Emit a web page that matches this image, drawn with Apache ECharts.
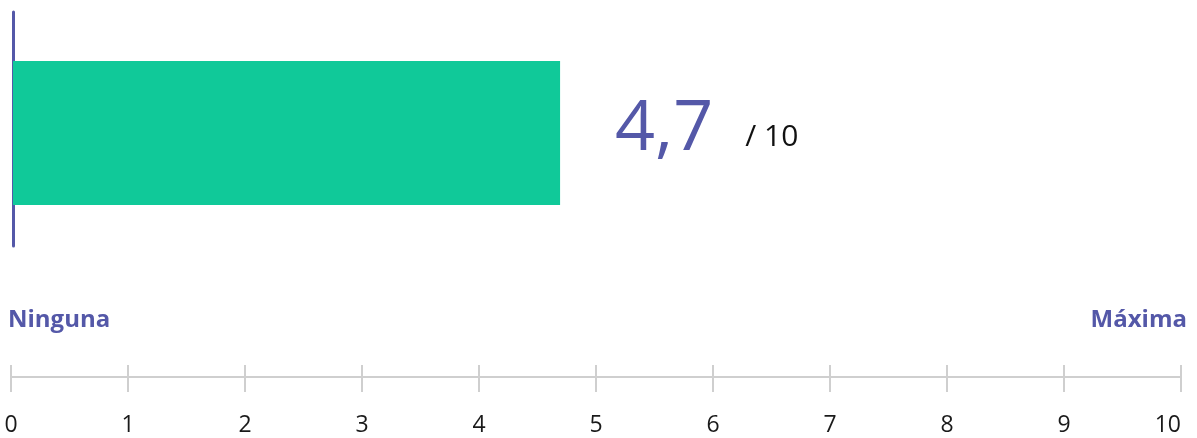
<!DOCTYPE html>
<html>
<head>
<meta charset="utf-8">
<script src="https://cdn.jsdelivr.net/npm/echarts@6/dist/echarts.min.js"></script>
<style>
  html, body { margin: 0; padding: 0; background: #ffffff; }
  #chart { width: 1197px; height: 438px; }
</style>
</head>
<body>
<div id="chart"></div>
<script>
// Score shown on a 0–10 scale
const categories = ['Valoración'];
const scores = [4.7];
const scaleMin = 0;
const scaleMax = 10;
const scaleStep = 1;
const scaleOutOf = '/ 10';
const endLabels = ['Ninguna', 'Máxima'];

const PURPLE = '#5458a8';
const GREEN = '#10c999';
const FONT = '"Open Sans", "Noto Sans", sans-serif';

const fmtDecimal = v => String(v).replace('.', ',');

const chart = echarts.init(document.getElementById('chart'), null, { renderer: 'canvas' });

chart.setOption({
  animation: false,
  backgroundColor: '#ffffff',
  textStyle: { fontFamily: FONT },
  title: [
    {
      text: endLabels[0], left: 3, top: 303,
      textStyle: { fontFamily: FONT, fontSize: 24, fontWeight: 700, color: PURPLE }
    },
    {
      text: endLabels[1], right: 5, top: 303,
      textStyle: { fontFamily: FONT, fontSize: 24, fontWeight: 700, color: PURPLE }
    }
  ],
  grid: [
    // bar
    { left: 13, right: 20, top: 61, height: 144, outerBoundsMode: 'none' },
    // vertical baseline
    { left: 13.5, right: 20, top: 12, height: 234, outerBoundsMode: 'none' },
    // scale
    { left: 11, right: 16, top: 365, height: 27, outerBoundsMode: 'none' }
  ],
  xAxis: [
    { gridIndex: 0, type: 'value', min: scaleMin, max: scaleMax, show: false },
    { gridIndex: 1, type: 'value', min: scaleMin, max: scaleMax, show: false },
    {
      gridIndex: 2, type: 'value', min: scaleMin, max: scaleMax, interval: scaleStep,
      axisLine: { show: true, onZero: true, lineStyle: { color: '#cfcfcf', width: 2 } },
      axisTick: { show: false },
      splitLine: { show: true, lineStyle: { color: '#cfcfcf', width: 2 } },
      axisLabel: {
        fontFamily: FONT, fontSize: 23, color: '#1a1a1a', margin: 22,
        alignMaxLabel: 'right'
      }
    }
  ],
  yAxis: [
    { gridIndex: 0, type: 'category', data: categories, show: false },
    {
      gridIndex: 1, type: 'category', data: categories,
      axisLine: { show: true, lineStyle: { color: PURPLE, width: 3 } },
      axisTick: { show: false }, axisLabel: { show: false }, splitLine: { show: false }
    },
    { gridIndex: 2, type: 'value', min: -15, max: 12, show: false }
  ],
  series: [
    {
      type: 'bar',
      xAxisIndex: 0, yAxisIndex: 0,
      data: scores,
      barCategoryGap: '0%',
      z: 1,
      itemStyle: { color: GREEN },
      label: {
        show: true,
        position: 'right',
        distance: 55,
        offset: [0, -3],
        formatter: p => '{v|' + fmtDecimal(p.value) + '}{d|' + scaleOutOf + '}',
        rich: {
          v: { fontFamily: FONT, fontSize: 70, color: PURPLE, lineHeight: 80 },
          d: { fontFamily: FONT, fontSize: 30, color: '#111111', padding: [0, 0, 18, 32], verticalAlign: 'bottom', lineHeight: 42 }
        }
      }
    }
  ]
});
</script>
</body>
</html>
